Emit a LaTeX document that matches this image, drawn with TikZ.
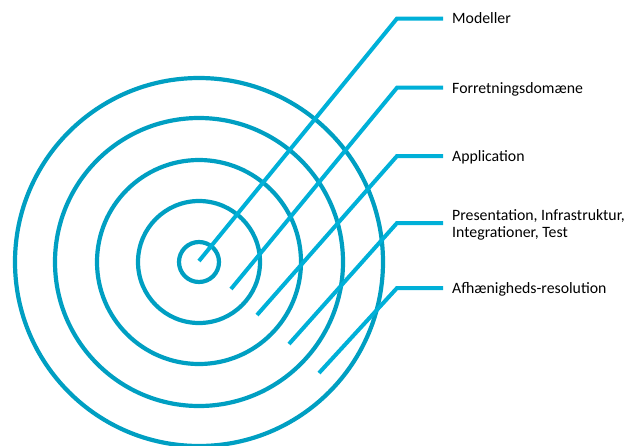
\documentclass[tikz,border=0pt]{standalone}
\usepackage{fontspec}
\setmainfont{Carlito}

\definecolor{ringblue}{RGB}{0,159,194}
\definecolor{spokeblue}{RGB}{0,176,216}

\begin{document}
\begin{tikzpicture}[x=1pt,y=-1pt,
    ring/.style={draw=ringblue,line width=4.2pt},
    spoke/.style={draw=spokeblue,line width=4pt},
    lbl/.style={anchor=west,inner xsep=9pt,inner ysep=0pt,text=black,
      font=\fontsize{15.8}{17}\selectfont},
    oneline/.style={lbl,text height=10.6pt,text depth=0pt}]
  \useasboundingbox (0,0) rectangle (626,445);

  % Define the centre of the rings
  \coordinate (o) at (199,262);
  \foreach \r in {20,61,102,144,184}
    \draw[ring] (o) circle (\r pt);

  % Labels on the right
  \node[oneline] (modeller) at (443,18.5) {Modeller};
  \node[oneline] (domaene) at (443,87.7) {Forretningsdomæne};
  \node[oneline] (app) at (443,156) {Application};
  \node[lbl,align=left] (infra) at (443,224.5) {Presentation, Infrastruktur,\\Integrationer, Test};
  \node[oneline] (afh) at (443,288) {Afhænigheds-resolution};

  % Define where the spokes start and where they bend
  \coordinate (s1) at (199,261);  \coordinate (k1) at (397,18.5);
  \coordinate (s2) at (231,289);  \coordinate (k2) at (397,87.7);
  \coordinate (s3) at (257,315);  \coordinate (k3) at (397,156);
  \coordinate (s4) at (289,344);  \coordinate (k4) at (397,223);
  \coordinate (s5) at (319,373);  \coordinate (k5) at (397,288);

  \foreach \s/\k/\l in {s1/k1/modeller, s2/k2/domaene, s3/k3/app, s4/k4/infra, s5/k5/afh}
    \draw[spoke] (\s) -- (\k) -- (\k -| \l.west);
\end{tikzpicture}
\end{document}
